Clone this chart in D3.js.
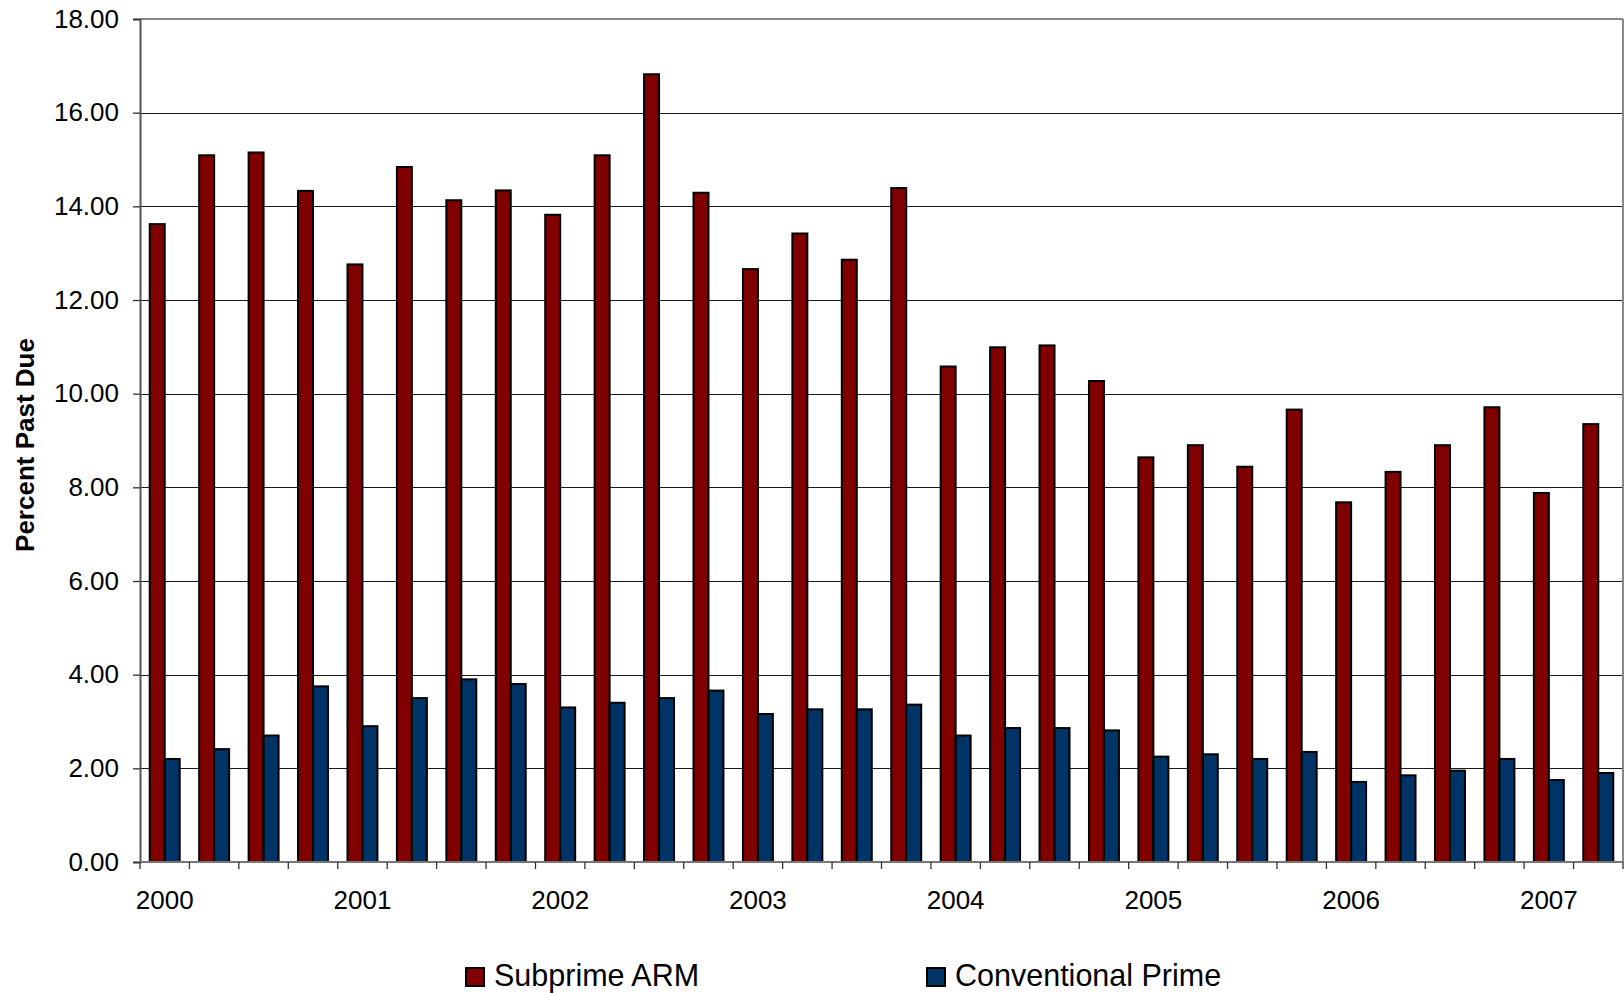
<!DOCTYPE html>
<html>
<head>
<meta charset="utf-8">
<script src="https://cdn.jsdelivr.net/npm/d3@7"></script>
<style>
  html, body { margin: 0; padding: 0; background: #fff; }
  svg { display: block; font-family: "Liberation Sans", Arial, sans-serif; }
</style>
</head>
<body>
<svg id="chart" width="1624" height="993"></svg>
<script>
// Quarterly delinquency rates, 2000 Q1 – 2007 Q2
const quarters = [
  "2000Q1","2000Q2","2000Q3","2000Q4",
  "2001Q1","2001Q2","2001Q3","2001Q4",
  "2002Q1","2002Q2","2002Q3","2002Q4",
  "2003Q1","2003Q2","2003Q3","2003Q4",
  "2004Q1","2004Q2","2004Q3","2004Q4",
  "2005Q1","2005Q2","2005Q3","2005Q4",
  "2006Q1","2006Q2","2006Q3","2006Q4",
  "2007Q1","2007Q2"
];
const subprimeARM = [
  13.62, 15.09, 15.15, 14.33,
  12.76, 14.84, 14.13, 14.34,
  13.82, 15.09, 16.82, 14.29,
  12.66, 13.42, 12.86, 14.39,
  10.58, 10.99, 11.03, 10.27,
  8.64, 8.90, 8.44, 9.66,
  7.68, 8.33, 8.90, 9.71,
  7.88, 9.35
];
const conventionalPrime = [
  2.20, 2.41, 2.70, 3.75,
  2.90, 3.50, 3.90, 3.80,
  3.30, 3.40, 3.50, 3.66,
  3.16, 3.26, 3.26, 3.36,
  2.70, 2.86, 2.86, 2.81,
  2.25, 2.30, 2.20, 2.35,
  1.71, 1.85, 1.95, 2.20,
  1.75, 1.90
];
const seriesNames = ["Subprime ARM", "Conventional Prime"];
const seriesColors = ["#800000", "#003366"];
const yTicks = [0, 2, 4, 6, 8, 10, 12, 14, 16, 18];
const yearLabels = ["2000","2001","2002","2003","2004","2005","2006","2007"];

const svg = d3.select("#chart");
const plotLeft = 140, plotRight = 1623, plotTop = 19, plotBottom = 862;

const x0 = d3.scaleBand().domain(quarters).range([plotLeft, plotRight]).padding(0);
const x1 = d3.scaleBand().domain(seriesNames).range([0, x0.bandwidth()])
  .paddingInner(0).paddingOuter(0.65);
const y = d3.scaleLinear().domain([0, 18]).range([plotBottom, plotTop]);

// horizontal gridlines
svg.append("g")
  .selectAll("line")
  .data(yTicks.filter(d => d > 0 && d < 18))
  .join("line")
  .attr("x1", plotLeft).attr("x2", plotRight)
  .attr("y1", d => Math.round(y(d)) + 0.5).attr("y2", d => Math.round(y(d)) + 0.5)
  .attr("stroke", "#1a1a1a").attr("stroke-width", 1.2);

// plot frame (top and right edges)
svg.append("line").attr("x1", plotLeft).attr("x2", plotRight).attr("y1", plotTop).attr("y2", plotTop)
  .attr("stroke", "#8a8a8a").attr("stroke-width", 2);
svg.append("line").attr("x1", plotRight).attr("x2", plotRight).attr("y1", plotTop).attr("y2", plotBottom)
  .attr("stroke", "#8a8a8a").attr("stroke-width", 2);

// bars
const rows = quarters.map((q, i) => ({ q, vals: [subprimeARM[i], conventionalPrime[i]] }));
const groups = svg.append("g").selectAll("g")
  .data(rows).join("g")
  .attr("transform", d => `translate(${x0(d.q)},0)`);
groups.selectAll("rect")
  .data(d => d.vals.map((v, k) => ({ name: seriesNames[k], v, k })))
  .join("rect")
  .attr("x", d => x1(d.name))
  .attr("width", x1.bandwidth())
  .attr("y", d => y(d.v))
  .attr("height", d => y(0) - y(d.v))
  .attr("fill", d => seriesColors[d.k])
  .attr("stroke", "#000").attr("stroke-width", 2);

// y axis
const yAxis = d3.axisLeft(y).tickValues(yTicks).tickSize(7).tickPadding(14)
  .tickFormat(d3.format(".2f"));
const gy = svg.append("g").attr("transform", `translate(${plotLeft},0)`).call(yAxis);
gy.select(".domain").attr("stroke", "#555").attr("stroke-width", 2);
gy.selectAll(".tick line").attr("stroke", "#333").attr("stroke-width", 1.3);
gy.selectAll(".tick text").attr("font-size", 26).attr("fill", "#000")
  .attr("font-family", "'Liberation Sans', Arial, sans-serif");

// x axis: ticks at every quarter boundary
const boundaries = quarters.map(q => x0(q)).concat([plotRight]);
const gx = svg.append("g");
gx.append("line").attr("x1", plotLeft).attr("x2", plotRight)
  .attr("y1", plotBottom).attr("y2", plotBottom)
  .attr("stroke", "#777").attr("stroke-width", 2);
gx.selectAll("line.tk").data(boundaries).join("line").attr("class", "tk")
  .attr("x1", d => d).attr("x2", d => d)
  .attr("y1", plotBottom).attr("y2", plotBottom + 7)
  .attr("stroke", "#333").attr("stroke-width", 1.3);
gx.selectAll("text").data(yearLabels).join("text")
  .attr("x", d => x0(d + "Q1") + x0.bandwidth() / 2)
  .attr("y", 909)
  .attr("text-anchor", "middle")
  .attr("font-size", 26)
  .text(d => d);

// y axis title
svg.append("text")
  .attr("transform", "translate(34,445) rotate(-90)")
  .attr("text-anchor", "middle")
  .attr("font-size", 26).attr("font-weight", "bold")
  .text("Percent Past Due");

// legend
const legendX = [466, 927];
const lg = svg.append("g").selectAll("g").data(seriesNames).join("g")
  .attr("transform", (d, i) => `translate(${legendX[i]},968)`);
lg.append("rect").attr("width", 18).attr("height", 18)
  .attr("fill", (d, i) => seriesColors[i]).attr("stroke", "#000").attr("stroke-width", 2);
lg.append("text").attr("x", 28).attr("y", 18)
  .attr("font-size", 30.5).text(d => d);
</script>
</body>
</html>
